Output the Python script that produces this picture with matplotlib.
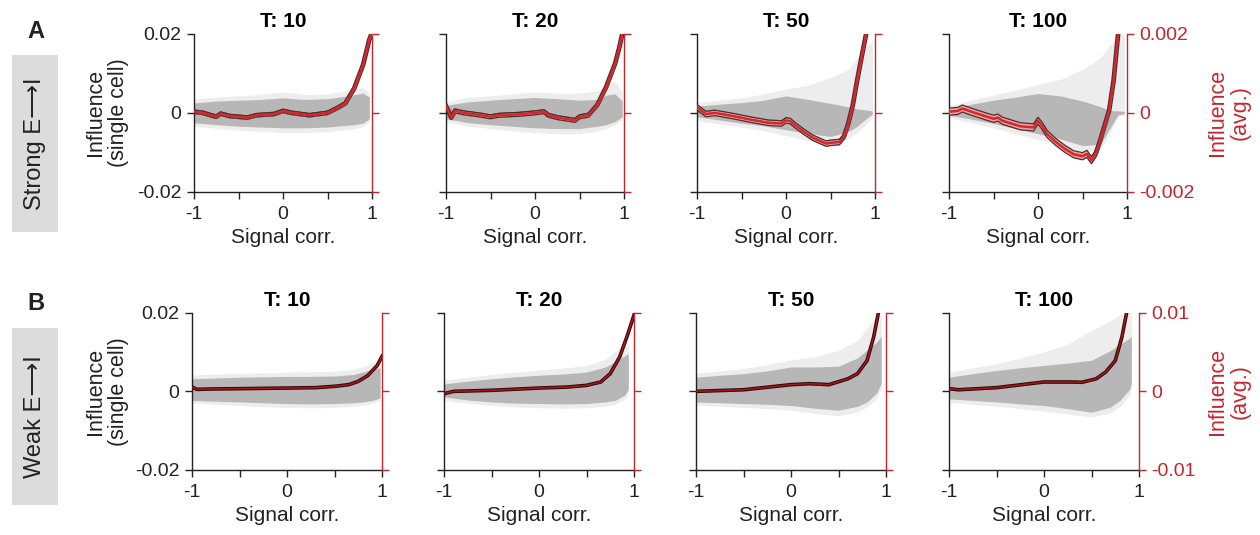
import matplotlib.pyplot as plt
from matplotlib.patches import Rectangle

plt.rcParams['font.family'] = ['Liberation Sans', 'DejaVu Sans']
plt.rcParams['axes.unicode_minus'] = False

W, H = 1260, 535
RED = '#c3262b'
DARK = '#222222'

titles = ['T: 10', 'T: 20', 'T: 50', 'T: 100']

# gray point cloud, single cell influence (x 1e-3), common x grid + end of cloud
cloud_x = [-1, -0.75, -0.5, -0.25, 0, 0.25, 0.5, 0.7, 0.8, 0.9]

a_cloud_end = [0.97, 0.98, 0.97, 0.97]
a_core_hi = [
    [2.5, 3.0, 3.2, 3.4, 3.8, 3.4, 3.6, 4.2, 4.6, 5.0, 4.0],
    [1.9, 2.8, 3.2, 3.6, 3.9, 3.6, 3.2, 3.4, 4.5, 4.8, 3.0],
    [1.7, 2.2, 2.6, 3.2, 4.3, 3.4, 2.4, 1.5, 1.0, 0.7, 0.5],
    [1.1, 2.2, 3.2, 4.0, 4.9, 4.3, 3.0, 1.6, 0.6, 0.5, 0.4],
]
a_core_lo = [
    [-2.5, -3.0, -3.4, -3.6, -3.8, -3.8, -3.6, -3.2, -3.0, -2.6, -1.5],
    [-1.5, -2.5, -3.0, -3.4, -3.8, -4.0, -4.0, -3.4, -3.0, -2.2, -1.0],
    [-1.0, -1.8, -2.6, -3.3, -4.3, -5.2, -6.0, -4.8, -3.4, -1.5, -0.3],
    [-0.6, -1.6, -2.7, -4.0, -5.3, -6.6, -8.3, -8.0, -4.2, -0.5, -0.2],
]
a_sparse_hi = [
    [3.5, 4.0, 4.3, 4.6, 5.3, 4.6, 4.8, 5.6, 6.0, 6.4, 5.0],
    [2.8, 4.0, 4.3, 4.8, 5.3, 5.0, 5.0, 5.5, 7.0, 8.0, 5.0],
    [2.6, 3.2, 3.8, 4.8, 6.0, 7.0, 9.0, 11.0, 14.0, 17.0, 18.0],
    [1.8, 3.2, 4.5, 5.8, 7.2, 8.5, 11.0, 14.0, 17.0, 19.5, 20.0],
]
a_sparse_lo = [
    [-3.3, -3.9, -4.4, -4.7, -5.0, -5.0, -4.8, -4.3, -4.0, -3.5, -2.2],
    [-2.3, -3.4, -4.0, -4.6, -5.0, -5.3, -5.3, -4.6, -4.0, -3.0, -1.8],
    [-2.0, -2.8, -3.6, -4.5, -5.8, -7.0, -8.0, -6.5, -5.0, -3.0, -1.0],
    [-1.3, -2.5, -3.8, -5.3, -6.8, -8.3, -10.0, -9.5, -5.5, -1.0, -0.4],
]

b_cloud_end = [0.98, 0.94, 0.95, 0.92]
b_core_hi = [
    [3.2, 3.4, 3.6, 3.7, 3.8, 3.8, 3.9, 4.3, 4.9, 5.7, 6.0],
    [1.9, 2.6, 3.2, 3.7, 4.1, 4.4, 4.9, 6.2, 7.5, 9.0, 9.6],
    [3.6, 4.1, 4.5, 5.2, 6.2, 6.2, 6.4, 8.5, 10.5, 12.5, 14.0],
    [3.6, 4.5, 5.3, 6.0, 6.6, 7.2, 7.9, 10.4, 12.0, 13.5, 14.0],
]
b_core_lo = [
    [-2.3, -2.5, -2.7, -2.9, -3.1, -3.2, -3.1, -2.9, -2.7, -2.3, -1.7],
    [-1.4, -2.2, -2.7, -3.0, -3.1, -3.2, -3.1, -2.7, -2.3, -1.0, 0.5],
    [-2.7, -2.9, -3.1, -3.3, -3.6, -4.3, -4.8, -3.8, -2.7, -0.5, 2.0],
    [-1.9, -2.3, -2.7, -3.2, -3.6, -4.4, -5.3, -4.0, -2.3, 0.5, 2.0],
]
b_sparse_hi = [
    [4.2, 4.4, 4.6, 4.7, 4.9, 5.0, 5.1, 5.6, 6.3, 7.2, 7.3],
    [2.8, 3.6, 4.3, 4.9, 5.4, 5.9, 6.6, 8.2, 10.0, 12.5, 12.5],
    [4.6, 5.2, 5.8, 6.8, 8.0, 8.8, 10.4, 13.0, 16.0, 19.0, 19.5],
    [4.8, 6.0, 7.0, 8.5, 10.0, 12.0, 15.5, 18.0, 19.5, 20.0, 20.0],
]
b_sparse_lo = [
    [-3.0, -3.3, -3.6, -3.9, -4.1, -4.2, -4.1, -3.8, -3.5, -3.0, -2.4],
    [-2.2, -3.0, -3.6, -4.0, -4.2, -4.3, -4.2, -3.8, -3.3, -2.0, -0.5],
    [-3.5, -3.8, -4.1, -4.4, -4.8, -5.6, -6.2, -5.2, -4.0, -1.8, 0.8],
    [-2.8, -3.3, -3.8, -4.4, -5.0, -5.8, -6.5, -5.5, -3.8, -1.0, 1.0],
]

# averaged influence (x 1e-3), right axis
a_line_x = [
    [-1, -0.9, -0.75, -0.7, -0.6, -0.4, -0.3, -0.1, 0, 0.1, 0.3, 0.5, 0.6, 0.7, 0.8, 0.9, 0.97, 1.0],
    [-1, -0.97, -0.94, -0.9, -0.8, -0.7, -0.6, -0.5, -0.4, -0.2, 0, 0.1, 0.15, 0.25, 0.45, 0.5,
     0.6, 0.7, 0.8, 0.9, 0.95, 0.98],
    [-1, -0.9, -0.8, -0.6, -0.4, -0.2, -0.05, 0, 0.05, 0.1, 0.2, 0.3, 0.45, 0.5, 0.6, 0.65, 0.7,
     0.75, 0.8, 0.85, 0.9],
    [-1, -0.9, -0.85, -0.75, -0.6, -0.5, -0.45, -0.4, -0.2, -0.05, 0, 0.05, 0.1, 0.2, 0.3, 0.4,
     0.5, 0.55, 0.6, 0.65, 0.7, 0.75, 0.8, 0.85, 0.9],
]
a_line_y = [
    [0.03, 0.0, -0.1, -0.02, -0.08, -0.12, -0.06, -0.03, 0.05, 0.0, -0.06, 0.0, 0.11, 0.24, 0.62,
     1.22, 1.86, 2.03],
    [0.17, 0.03, -0.12, 0.05, 0.0, -0.03, -0.06, -0.1, -0.06, -0.04, 0.0, 0.03, -0.06, -0.12, -0.19,
     -0.1, -0.06, 0.2, 0.66, 1.25, 1.68, 2.0],
    [0.14, -0.03, 0.0, -0.08, -0.17, -0.25, -0.27, -0.19, -0.21, -0.31, -0.48, -0.63, -0.78, -0.76,
     -0.74, -0.61, -0.27, 0.19, 0.83, 1.42, 2.0],
    [0.03, 0.05, 0.11, 0.03, -0.08, -0.15, -0.12, -0.2, -0.34, -0.37, -0.2, -0.34, -0.53, -0.74,
     -0.91, -1.05, -1.1, -1.04, -1.2, -1.03, -0.69, -0.31, 0.07, 0.83, 2.0],
]
a_ci = [0.04, 0.05, 0.07, 0.09]

b_line_x = [
    [-1, -0.95, -0.8, -0.5, 0, 0.3, 0.5, 0.65, 0.75, 0.85, 0.95, 1.0],
    [-1, -0.9, -0.5, 0, 0.3, 0.5, 0.65, 0.75, 0.85, 0.93, 1.0],
    [-1, -0.5, 0, 0.2, 0.4, 0.6, 0.7, 0.8, 0.87, 0.92],
    [-1, -0.9, -0.5, 0, 0.3, 0.4, 0.55, 0.65, 0.75, 0.82, 0.87],
]
b_line_y = [
    [0.55, 0.25, 0.3, 0.34, 0.42, 0.47, 0.64, 0.85, 1.27, 2.0, 3.3, 4.45],
    [-0.3, 0.0, 0.13, 0.42, 0.55, 0.76, 1.19, 2.25, 4.4, 7.1, 9.7],
    [0.0, 0.2, 0.85, 0.97, 0.85, 1.6, 2.25, 3.9, 6.9, 10.0],
    [0.34, 0.2, 0.47, 1.19, 1.19, 1.15, 1.6, 2.46, 3.9, 6.9, 10.0],
]

a_lefts = [194, 446, 697, 949]
a_width = 178
b_lefts = [192, 444, 696, 949]
b_width = 190
a_top, a_bot = 34, 191.7
b_top, b_bot = 312.7, 470

fig = plt.figure(figsize=(W / 100, H / 100), dpi=100)


def px_rect(left, width, top, bot):
    return [left / W, 1 - bot / H, width / W, (bot - top) / H]


def draw_panel(rect, i, cl_end, c_hi, c_lo, s_hi, s_lo, lx, ly, rlim, rlabels, ci=None):
    ax = fig.add_axes(rect)
    cx = cloud_x + [cl_end]
    sc = 1e-3
    ax.fill_between(cx, [v * sc for v in s_lo], [v * sc for v in s_hi], color='#ededed', lw=0)
    ax.fill_between(cx, [v * sc for v in c_lo], [v * sc for v in c_hi], color='#b7b7b7', lw=0)
    ax.set_xlim(-1, 1)
    ax.set_ylim(-0.02, 0.02)
    ax.set_xticks([-1, -0.5, 0, 0.5, 1])
    ax.set_xticklabels(['-1', '', '0', '', '1'])
    ax.set_yticks([-0.02, 0, 0.02])
    if i == 0:
        ax.set_yticklabels(['-0.02', '0', '0.02'])
    else:
        ax.set_yticklabels([])
    ax.tick_params(axis='both', direction='out', length=5, width=1, colors=DARK,
                   labelsize=14, pad=4)
    ax.tick_params(axis='x', pad=5)
    for s in ['top', 'right']:
        ax.spines[s].set_visible(False)
    for s in ['left', 'bottom']:
        ax.spines[s].set_color(DARK)
        ax.spines[s].set_linewidth(1)
    ax.set_xlabel('Signal corr.', fontsize=15, labelpad=4, color=DARK)
    ax.set_title(titles[i], fontsize=15, fontweight='bold', pad=5)

    ax2 = ax.twinx()
    ax2.set_ylim(-rlim, rlim)
    ax2.set_yticks([-rlim, 0, rlim])
    if i == 3:
        ax2.set_yticklabels(rlabels)
    else:
        ax2.set_yticklabels([])
    ax2.tick_params(axis='y', direction='out', length=5, width=1, colors=RED,
                    labelsize=14, pad=4)
    for s in ['top', 'left', 'bottom']:
        ax2.spines[s].set_visible(False)
    ax2.spines['right'].set_color(RED)
    ax2.spines['right'].set_linewidth(1)

    y = [v * 1e-3 for v in ly]
    if ci is not None:
        lo = [v - ci * 1e-3 for v in y]
        hi = [v + ci * 1e-3 for v in y]
        ax2.plot(lx, y, color='#4a3030', lw=3.4, zorder=3)
        ax2.fill_between(lx, lo, hi, color='#f0a0a0', lw=0, zorder=3.5)
        ax2.plot(lx, lo, color='#4a3030', lw=0.9, zorder=4)
        ax2.plot(lx, hi, color='#4a3030', lw=0.9, zorder=4)
        ax2.plot(lx, y, color='#d8262a', lw=1.8, zorder=5)
    else:
        ax2.plot(lx, y, color='#2a0808', lw=2.6, zorder=4)
        ax2.plot(lx, y, color='#a5141b', lw=1.2, zorder=5)
    return ax, ax2


for i in range(4):
    draw_panel(px_rect(a_lefts[i], a_width, a_top, a_bot), i, a_cloud_end[i],
               a_core_hi[i], a_core_lo[i], a_sparse_hi[i], a_sparse_lo[i],
               a_line_x[i], a_line_y[i], 0.002, ['-0.002', '0', '0.002'], ci=a_ci[i])
    draw_panel(px_rect(b_lefts[i], b_width, b_top, b_bot), i, b_cloud_end[i],
               b_core_hi[i], b_core_lo[i], b_sparse_hi[i], b_sparse_lo[i],
               b_line_x[i], b_line_y[i], 0.01, ['-0.01', '0', '0.01'])

# axis labels outside panels
for yc in [(a_top + a_bot) / 2, (b_top + b_bot) / 2]:
    fig.text(107 / W, 1 - yc / H, 'Influence\n(single cell)', rotation=90, ha='center',
             va='center', fontsize=15.5, color=DARK, multialignment='center', linespacing=1.1)
    fig.text(1229 / W, 1 - yc / H, 'Influence\n(avg.)', rotation=90, ha='center',
             va='center', fontsize=15.5, color=RED, multialignment='center', linespacing=1.1)

# row tags
for top, bot, label, letter, ly in [(55, 232, 'Strong E\u27f6I', 'A', 31),
                                    (328, 505, 'Weak E\u27f6I', 'B', 304)]:
    fig.patches.append(Rectangle((12 / W, 1 - bot / H), 46 / W, (bot - top) / H,
                                 transform=fig.transFigure, color='#dcdcdc', lw=0))
    fig.text(35 / W, 1 - (top + bot) / 2 / H, label, rotation=90, ha='center', va='center',
             fontsize=17, color=DARK)
    fig.text(36 / W, 1 - ly / H, letter, ha='center', va='center', fontsize=17,
             fontweight='bold', color=DARK)

fig.savefig('out.png', dpi=100)
